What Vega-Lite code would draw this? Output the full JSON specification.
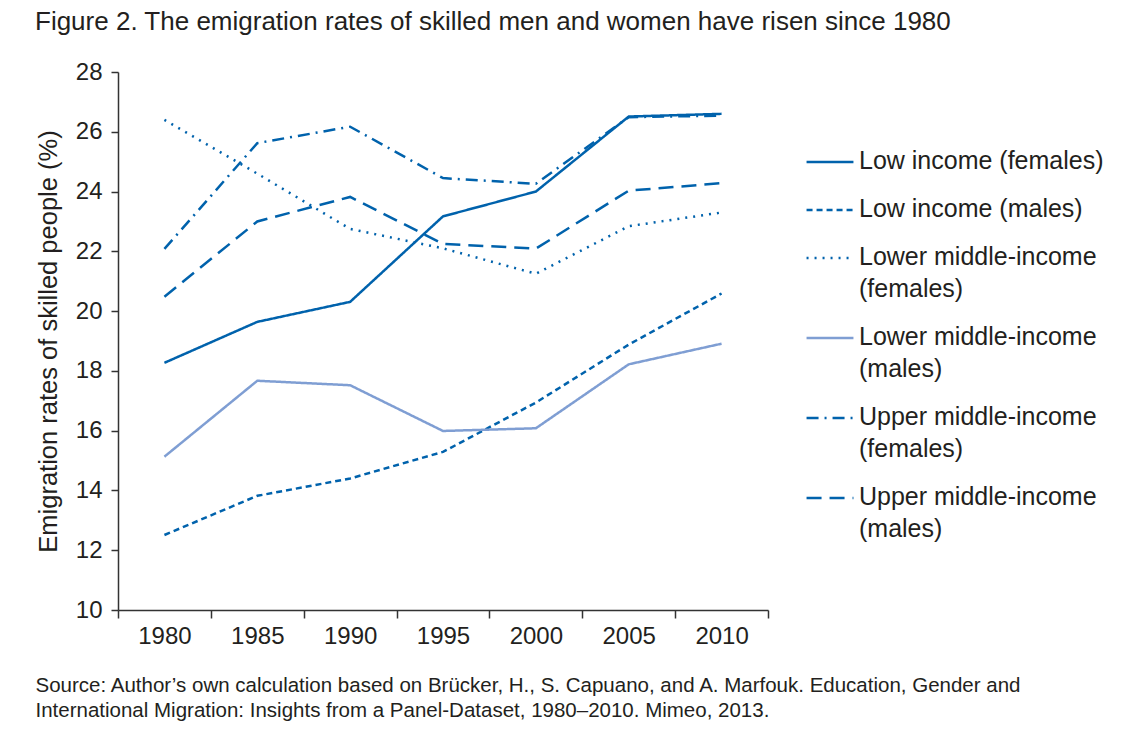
{
  "$schema": "https://vega.github.io/schema/vega-lite/v6.json",
  "width": 650,
  "height": 538,
  "padding": {"left": 35, "top": 9, "right": 5, "bottom": 5},
  "background": "white",
  "title": {
    "text": "Figure 2. The emigration rates of skilled men and women have risen since 1980",
    "anchor": "start",
    "frame": "bounds",
    "font": "Liberation Sans",
    "fontSize": 26,
    "fontWeight": "normal",
    "color": "#231F20",
    "offset": 25
  },
  "data": {
    "values": [
      {"year": "1980", "series": "Low income (females)", "rate": 18.27},
      {"year": "1985", "series": "Low income (females)", "rate": 19.64},
      {"year": "1990", "series": "Low income (females)", "rate": 20.31},
      {"year": "1995", "series": "Low income (females)", "rate": 23.17},
      {"year": "2000", "series": "Low income (females)", "rate": 24.0},
      {"year": "2005", "series": "Low income (females)", "rate": 26.51},
      {"year": "2010", "series": "Low income (females)", "rate": 26.6},
      {"year": "1980", "series": "Low income (males)", "rate": 12.51},
      {"year": "1985", "series": "Low income (males)", "rate": 13.82},
      {"year": "1990", "series": "Low income (males)", "rate": 14.4},
      {"year": "1995", "series": "Low income (males)", "rate": 15.29},
      {"year": "2000", "series": "Low income (males)", "rate": 16.94},
      {"year": "2005", "series": "Low income (males)", "rate": 18.88},
      {"year": "2010", "series": "Low income (males)", "rate": 20.59},
      {"year": "1980", "series": "Lower middle-income (females)", "rate": 26.4},
      {"year": "1985", "series": "Lower middle-income (females)", "rate": 24.6},
      {"year": "1990", "series": "Lower middle-income (females)", "rate": 22.75},
      {"year": "1995", "series": "Lower middle-income (females)", "rate": 22.1},
      {"year": "2000", "series": "Lower middle-income (females)", "rate": 21.25},
      {"year": "2005", "series": "Lower middle-income (females)", "rate": 22.84},
      {"year": "2010", "series": "Lower middle-income (females)", "rate": 23.3},
      {"year": "1980", "series": "Lower middle-income (males)", "rate": 15.13},
      {"year": "1985", "series": "Lower middle-income (males)", "rate": 17.67},
      {"year": "1990", "series": "Lower middle-income (males)", "rate": 17.52},
      {"year": "1995", "series": "Lower middle-income (males)", "rate": 15.99},
      {"year": "2000", "series": "Lower middle-income (males)", "rate": 16.08},
      {"year": "2005", "series": "Lower middle-income (males)", "rate": 18.22},
      {"year": "2010", "series": "Lower middle-income (males)", "rate": 18.91},
      {"year": "1980", "series": "Upper middle-income (females)", "rate": 22.08},
      {"year": "1985", "series": "Upper middle-income (females)", "rate": 25.62},
      {"year": "1990", "series": "Upper middle-income (females)", "rate": 26.17},
      {"year": "1995", "series": "Upper middle-income (females)", "rate": 24.45},
      {"year": "2000", "series": "Upper middle-income (females)", "rate": 24.26},
      {"year": "2005", "series": "Upper middle-income (females)", "rate": 26.49},
      {"year": "2010", "series": "Upper middle-income (females)", "rate": 26.54},
      {"year": "1980", "series": "Upper middle-income (males)", "rate": 20.48},
      {"year": "1985", "series": "Upper middle-income (males)", "rate": 23.0},
      {"year": "1990", "series": "Upper middle-income (males)", "rate": 23.82},
      {"year": "1995", "series": "Upper middle-income (males)", "rate": 22.25},
      {"year": "2000", "series": "Upper middle-income (males)", "rate": 22.09},
      {"year": "2005", "series": "Upper middle-income (males)", "rate": 24.03},
      {"year": "2010", "series": "Upper middle-income (males)", "rate": 24.28}
    ]
  },
  "mark": {"type": "line", "strokeWidth": 2.5, "strokeCap": "butt", "strokeJoin": "miter"},
  "encoding": {
    "x": {
      "field": "year",
      "type": "ordinal",
      "scale": {"type": "band", "paddingInner": 0, "paddingOuter": 0},
      "axis": {
        "labelAngle": 0,
        "tickBand": "extent",
        "tickSize": 8,
        "labelPadding": 6,
        "title": [
          "Source: Author’s own calculation based on Brücker, H., S. Capuano, and A. Marfouk. Education, Gender and",
          "International Migration: Insights from a Panel-Dataset, 1980–2010. Mimeo, 2013."
        ],
        "titleFontSize": 20.5,
        "titleAnchor": "start",
        "titleAlign": "left",
        "titleBaseline": "top",
        "titleX": -83,
        "titleY": 65,
        "titleLineHeight": 25
      }
    },
    "y": {
      "field": "rate",
      "type": "quantitative",
      "scale": {"domain": [10, 28], "nice": false, "zero": false},
      "axis": {
        "values": [10, 12, 14, 16, 18, 20, 22, 24, 26, 28],
        "title": "Emigration rates of skilled people (%)",
        "tickSize": 7,
        "labelPadding": 9,
        "titlePadding": 14,
        "titleFontSize": 25.5,
        "grid": false
      }
    },
    "color": {
      "field": "series",
      "type": "nominal",
      "scale": {
        "domain": ["Low income (females)", "Low income (males)", "Lower middle-income (females)", "Lower middle-income (males)", "Upper middle-income (females)", "Upper middle-income (males)"],
        "range": ["#0062AC", "#0062AC", "#0062AC", "#7F9ED3", "#0062AC", "#0062AC"]
      },
      "legend": {
        "title": null,
        "orient": "none",
        "legendX": 687,
        "legendY": 65,
        "symbolType": "stroke",
        "symbolSize": 2200,
        "symbolStrokeWidth": 2.5,
        "labelFontSize": 25,
        "labelOffset": 4,
        "labelLimit": 400,
        "rowPadding": 11,
        "labelBaseline": "top",
        "labelExpr": "test(/middle/, datum.label) ? split(replace(datum.label, ' (', '|('), '|') : datum.label",
        "encode": {"labels": {"update": {"lineHeight": {"value": 32}, "dy": {"value": -13}}}}
      }
    },
    "strokeDash": {
      "field": "series",
      "type": "nominal",
      "scale": {
        "domain": ["Low income (females)", "Low income (males)", "Lower middle-income (females)", "Lower middle-income (males)", "Upper middle-income (females)", "Upper middle-income (males)"],
        "range": [[1, 0], [6, 4], [2, 6], [1, 0], [12, 6, 2, 6], [15, 8]]
      },
      "legend": null
    }
  },
  "config": {
    "font": "Liberation Sans",
    "view": {"stroke": null},
    "axis": {
      "labelFont": "Liberation Sans",
      "labelFontSize": 24,
      "labelColor": "#231F20",
      "titleFont": "Liberation Sans",
      "titleFontWeight": "normal",
      "titleColor": "#231F20",
      "domainColor": "#333333",
      "tickColor": "#333333",
      "domainWidth": 1.5,
      "tickWidth": 1.5,
      "grid": false
    },
    "legend": {
      "labelFont": "Liberation Sans",
      "labelColor": "#231F20"
    }
  }
}
